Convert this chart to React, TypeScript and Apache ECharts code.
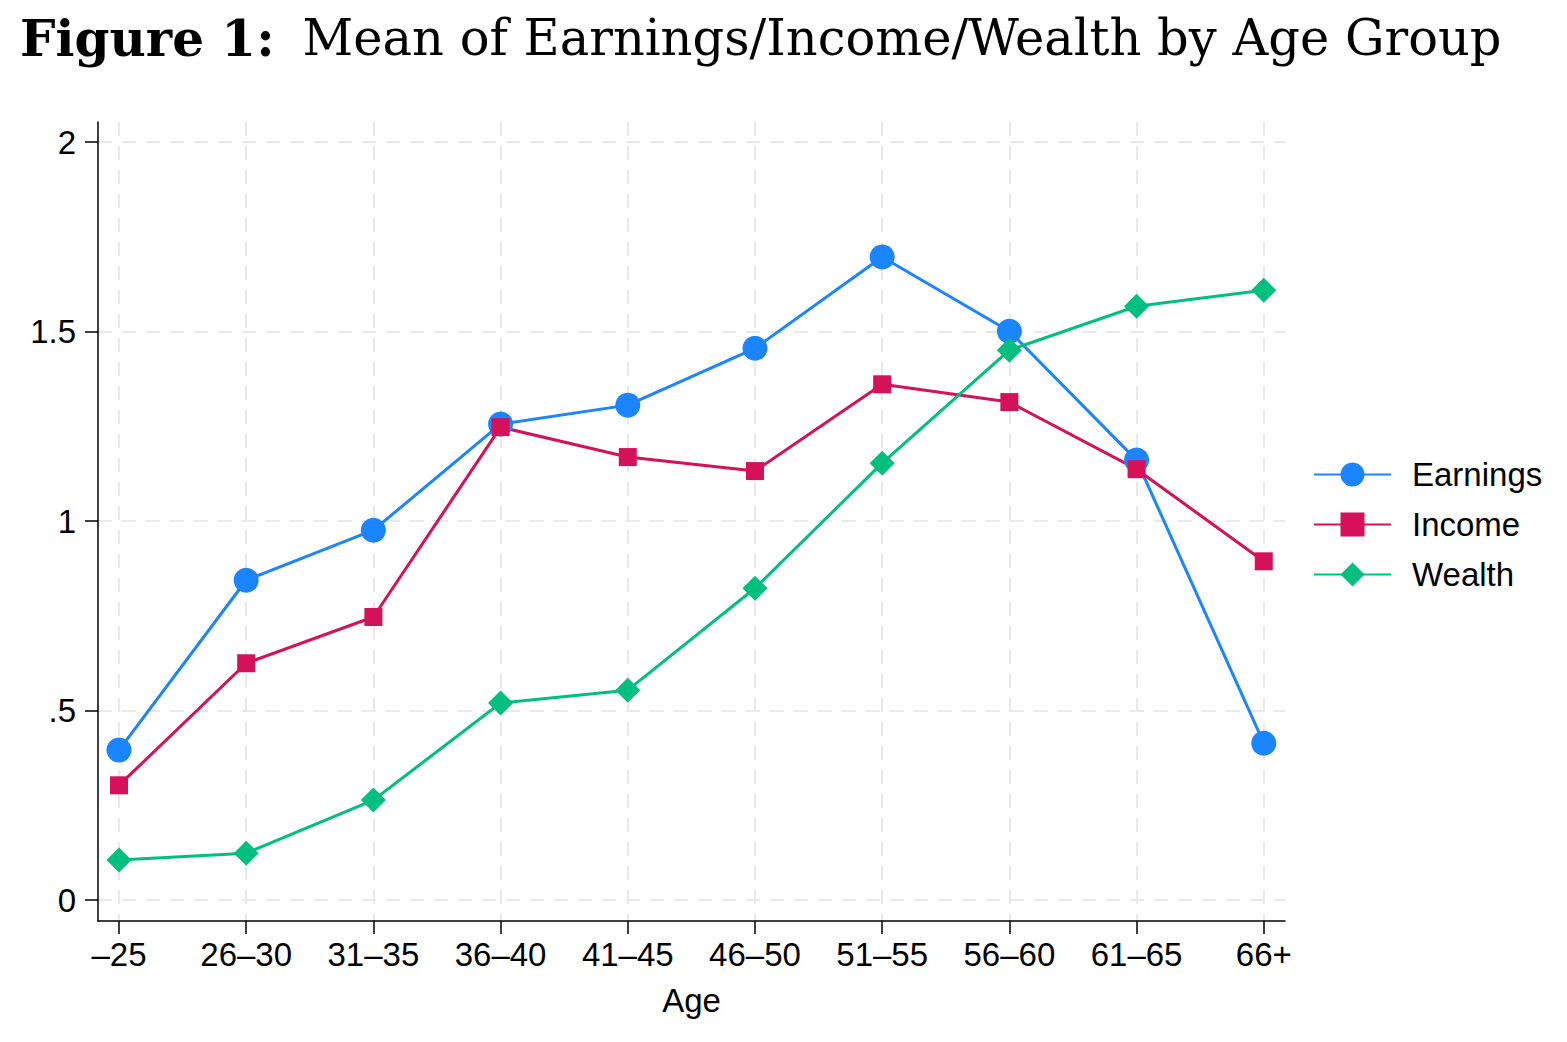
import React, { useEffect, useRef } from "react";
import * as echarts from "echarts";

const categories = ["\u201325", "26\u201330", "31\u201335", "36\u201340", "41\u201345", "46\u201350", "51\u201355", "56\u201360", "61\u201365", "66+"];
const earnings = [0.396, 0.844, 0.976, 1.256, 1.306, 1.456, 1.697, 1.501, 1.161, 0.414];
const income = [0.303, 0.625, 0.747, 1.248, 1.169, 1.132, 1.361, 1.314, 1.137, 0.894];
const wealth = [0.106, 0.124, 0.264, 0.52, 0.554, 0.823, 1.153, 1.451, 1.567, 1.609];
const yTicks = [0, 0.5, 1, 1.5, 2];
const yTickLabels = ["0", ".5", "1", "1.5", "2"];

const C_EARN = "#1a85ff";
const C_INC = "#d41159";
const C_WEA = "#00bf7f";

const pairs = (arr: number[]) => arr.map((v, i) => [i, v]);

export default function App() {
  const ref = useRef<HTMLDivElement>(null);
  useEffect(() => {
    if (!ref.current) return;
    const chart = echarts.init(ref.current, null, { renderer: "svg" });
    const gridLine = { show: true, lineStyle: { color: "#e9e9e9", width: 2, type: [14, 10] } };
    const font = "Liberation Sans";
    chart.setOption({
      animation: false,
      backgroundColor: "#ffffff",
      title: {
        left: 15,
        top: 8,
        text: "{b|Figure 1:}{r|Mean of Earnings/Income/Wealth by Age Group}",
        textStyle: {
          rich: {
            b: { fontFamily: "DejaVu Serif", fontWeight: "bold", fontSize: 50, color: "#000" },
            r: { fontFamily: "DejaVu Serif", fontWeight: "normal", fontSize: 49.5, color: "#000", padding: [0, 0, 0, 28] },
          },
        },
      },
      legend: {
        orient: "vertical",
        left: 1308,
        top: 453,
        itemWidth: 77,
        itemHeight: 30,
        itemGap: 17,
        textStyle: { fontFamily: font, fontSize: 33, color: "#000", padding: [0, 0, 0, 16] },
        data: ["Earnings", "Income", "Wealth"],
      },
      grid: { left: 98, top: 122, right: 282, bottom: 121, containLabel: false },
      xAxis: {
        type: "value",
        min: -0.165,
        max: 9.167,
        name: "Age",
        nameLocation: "middle",
        nameGap: 63,
        nameTextStyle: { fontFamily: font, fontSize: 33, color: "#000" },
        axisLine: { show: true, onZero: false, lineStyle: { color: "#000", width: 1.5 } },
        axisTick: { show: true, length: 13, lineStyle: { color: "#000", width: 1.5 }, customValues: categories.map((_, i) => i) },
        axisLabel: {
          fontFamily: font,
          fontSize: 33,
          color: "#000",
          margin: 17,
          customValues: categories.map((_, i) => i),
          formatter: (v: number) => categories[Math.round(v)] ?? "",
        },
        splitLine: gridLine,
      },
      yAxis: {
        type: "value",
        min: -0.055,
        max: 2.053,
        axisLine: { show: true, onZero: false, lineStyle: { color: "#000", width: 1.5 } },
        axisTick: { show: true, length: 13, lineStyle: { color: "#000", width: 1.5 }, customValues: yTicks },
        axisLabel: {
          fontFamily: font,
          fontSize: 33,
          color: "#000",
          margin: 22,
          customValues: yTicks,
          formatter: (v: number) => {
            const i = yTicks.findIndex((t) => Math.abs(t - v) < 1e-6);
            return i >= 0 ? yTickLabels[i] : "";
          },
        },
        splitLine: gridLine,
      },
      series: [
        {
          name: "Earnings",
          type: "line",
          data: pairs(earnings),
          symbol: "circle",
          symbolSize: 25,
          itemStyle: { color: C_EARN },
          lineStyle: { color: C_EARN, width: 3 },
        },
        {
          name: "Income",
          type: "line",
          data: pairs(income),
          symbol: "rect",
          symbolSize: 18,
          itemStyle: { color: C_INC },
          lineStyle: { color: C_INC, width: 3 },
        },
        {
          name: "Wealth",
          type: "line",
          data: pairs(wealth),
          symbol: "diamond",
          symbolSize: 25,
          itemStyle: { color: C_WEA },
          lineStyle: { color: C_WEA, width: 3 },
        },
      ],
    });
    return () => chart.dispose();
  }, []);
  return <div ref={ref} style={{ position: "absolute", left: 0, top: 0, width: 1567, height: 1042 }} />;
}
